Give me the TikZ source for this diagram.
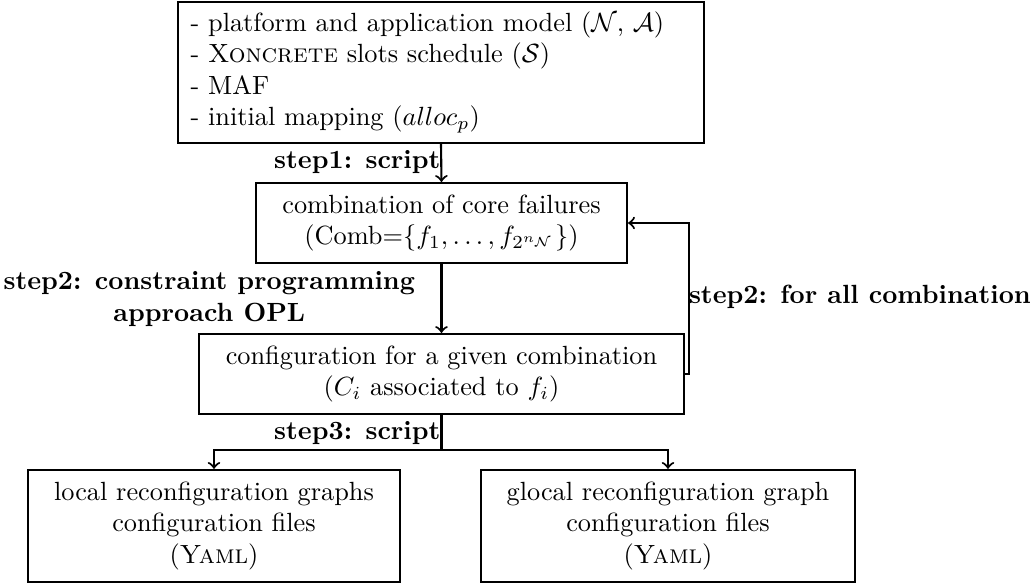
\documentclass[tikz,border=0pt]{standalone}
\usepackage{amsmath}
\usepackage{amssymb}
\usepackage{tikz}
\usetikzlibrary{arrows}

\tikzset{
  stagebox/.style={draw, thick, align=center, inner sep=2pt},
  steplabel/.style={font=\bfseries, inner sep=0pt},
}

\begin{document}
\begin{tikzpicture}[x=0.38pt, y=-0.38pt, thick, >=to]
\useasboundingbox (0,0) rectangle (1035,585);
%%%%% Boxes %%%%%
\node[stagebox, align=left, inner xsep=4.8pt, inner ysep=2pt, text width=190.3pt, minimum height=53.6pt] (inputs) at (441,72.5)
  {- platform and application model ($\mathcal{N}$, $\mathcal{A}$)\\
   - \textsc{Xoncrete} slots schedule ($\mathcal{S}$)\\
   - MAF\\
   - initial mapping ($alloc_p$)};
\node[stagebox, minimum width=141pt, minimum height=30.4pt] (comb) at (441.5,223)
  {combination of core failures\\(Comb=$\{f_1, \ldots, f_{2^{n_{\mathcal{N}}}}\}$)};
\node[stagebox, minimum width=184.3pt, minimum height=30.4pt] (config) at (441.5,374)
  {configuration for a given combination\\($C_i$ associated to $f_i$)};
\node[stagebox, minimum width=141.4pt, minimum height=42.6pt] (local) at (214,526)
  {local reconfiguration graphs\\configuration files\\(\textsc{Yaml})};
\node[stagebox, minimum width=142.1pt, minimum height=42.6pt] (glocal) at (668,526)
  {glocal reconfiguration graph\\configuration files\\(\textsc{Yaml})};
\coordinate (branch) at (441.5,450);
%%%%% Arrows %%%%%
\draw[->] (inputs.south) -- (comb.north);
\draw[->] (comb.south) -- (config.north);
\draw[->] (config.east) -- ++(4,0) |- (comb.east);
\draw (config.south) -- (branch);
\draw[->] (branch) -| (local.north);
\draw[->] (branch) -| (glocal.north);
%%%%% Labels %%%%%
\node[steplabel, anchor=east] (step1) at (441.5,162) {step1: script};
\node[steplabel, anchor=east, align=center] (step2) at (416,299) {step2: constraint programming\\approach OPL};
\node[steplabel, anchor=west] (step2loop) at (688,297) {step2: for all combination};
\node[steplabel, anchor=east] (step3) at (441.5,433) {step3: script};
\end{tikzpicture}
\end{document}
